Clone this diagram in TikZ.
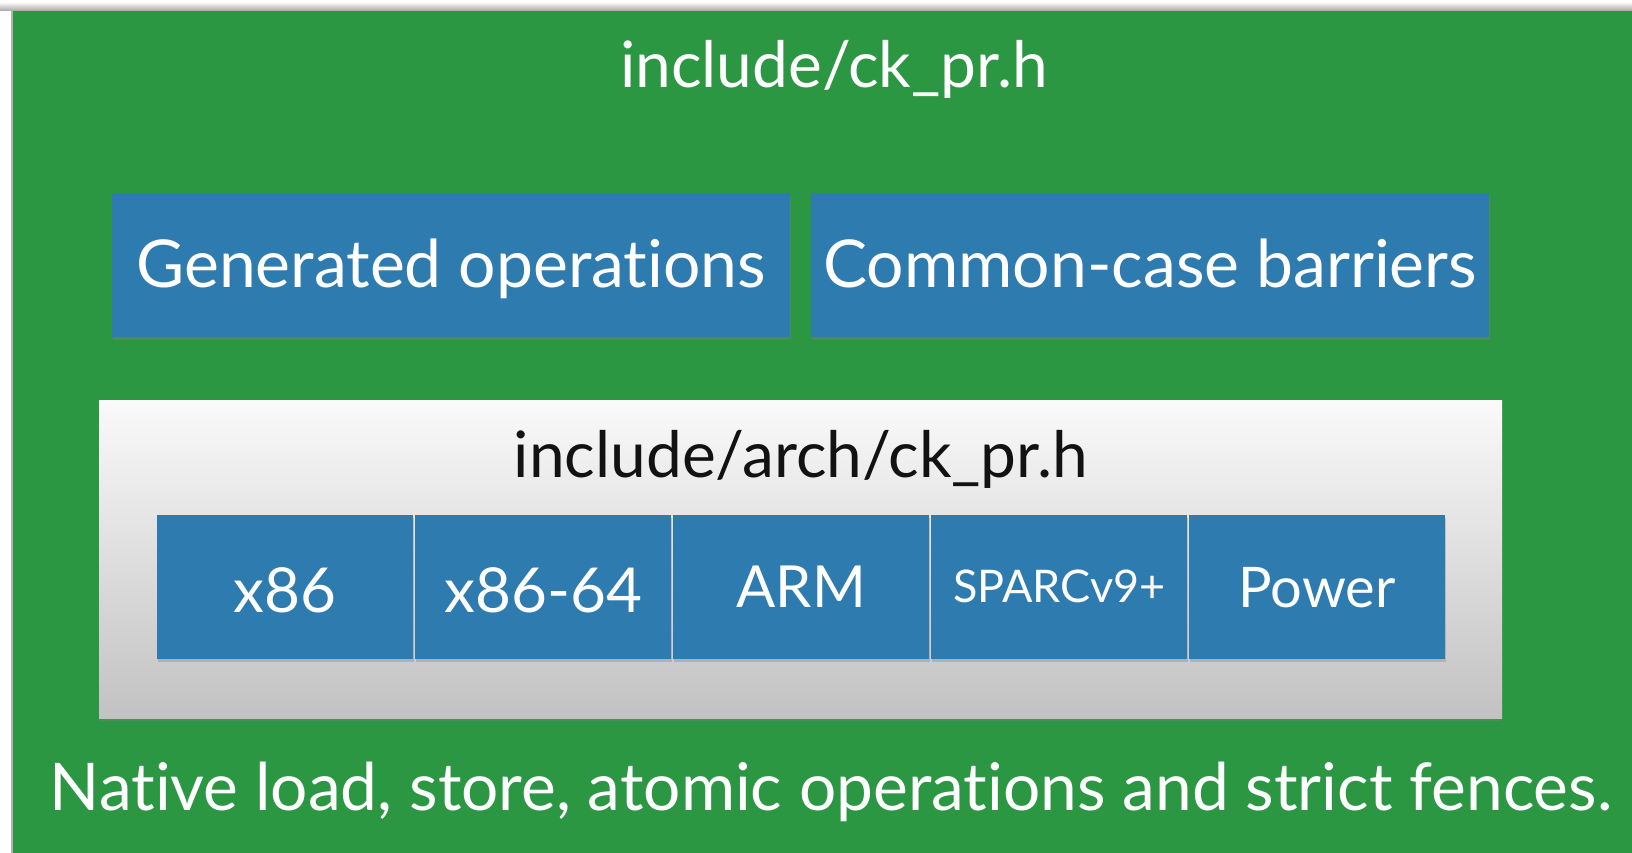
\documentclass[tikz,border=0pt]{standalone}
\usepackage{fontspec}
\setmainfont{Lato}[Ligatures={NoCommon,NoRequired,NoContextual}]
\usetikzlibrary{shadows}
\definecolor{felt}{RGB}{44,151,67}
\definecolor{tileblue}{RGB}{46,123,176}
\definecolor{inkdark}{RGB}{18,18,18}
\begin{document}
\begin{tikzpicture}[x=1pt,y=-1pt,
  board/.style={fill=felt, draw=none},
  panel/.style={draw=none, top color=white!98!black, bottom color=black!24,
    drop shadow={shadow xshift=0pt, shadow yshift=-3pt, opacity=0.35}},
  tilebox/.style={fill=tileblue, draw=none, inner sep=0pt, anchor=north west,
    drop shadow={shadow xshift=1pt, shadow yshift=-3pt, opacity=0.35}},
  bigtile/.style={tilebox, minimum width=678pt, minimum height=144pt},
  archtile/.style={tilebox, minimum width=256pt, minimum height=144pt},
  whitetext/.style={text=white, inner sep=0pt, anchor=base},
  darktext/.style={text=inkdark, inner sep=0pt, anchor=base},
  huge64/.style={font=\fontsize{64}{64}\selectfont},
]
\useasboundingbox (0,0) rectangle (1632,853);

% page surround and the felt board
\fill[white] (0,0) rectangle (1632,853);
\shade[top color=white, bottom color=black!35] (0,2) rectangle (1632,11);
\fill[black!30] (11,11) rectangle (13,853);
\fill[board] (13,11) rectangle (1632,853);

% title of the board
\node[whitetext, huge64] (title) at (834,88) {include/ck\_pr.h};

% upper tiles
\node[bigtile] (gen) at (112,193) {};
\node[bigtile] (common) at (811,193) {};
\node[whitetext, font=\fontsize{66}{66}\selectfont] (gentext) at (gen.center |- 0,287) {Generated operations};
\node[whitetext, font=\fontsize{66}{66}\selectfont] (commontext) at (common.center |- 0,287) {Common-case barriers};

% architecture panel
\node[panel, minimum width=1403pt, minimum height=318pt, inner sep=0pt, anchor=north west] (arch) at (99,400) {};
\node[darktext, huge64] (archtitle) at (801,477) {include/arch/ck\_pr.h};

% architecture tiles, 2pt apart
\node[archtile] (x86) at (157,515) {};
\node[archtile] (x64) at (415,515) {};
\node[archtile] (arm) at (673,515) {};
\node[archtile] (sparc) at (931,515) {};
\node[archtile] (power) at (1189,515) {};

\node[whitetext, font=\fontsize{62}{62}\selectfont] (x86text) at (x86.center |- 0,612) {x86};
\node[whitetext, font=\fontsize{62}{62}\selectfont] (x64text) at (x64.center |- 0,612) {x86-64};
\node[whitetext, font=\fontsize{58}{58}\selectfont] (armtext) at (arm.center |- 0,607) {ARM};
\node[whitetext, font=\fontsize{45}{45}\selectfont] (sparctext) at (sparc.center |- 0,602) {SPARCv9+};
\node[whitetext, font=\fontsize{56}{56}\selectfont] (powertext) at (power.center |- 0,607) {Power};

% footer line
\node[whitetext, font=\fontsize{65.8}{66}\selectfont] (footer) at (831,810) {Native load, store, atomic operations and strict fences.};
\end{tikzpicture}
\end{document}
